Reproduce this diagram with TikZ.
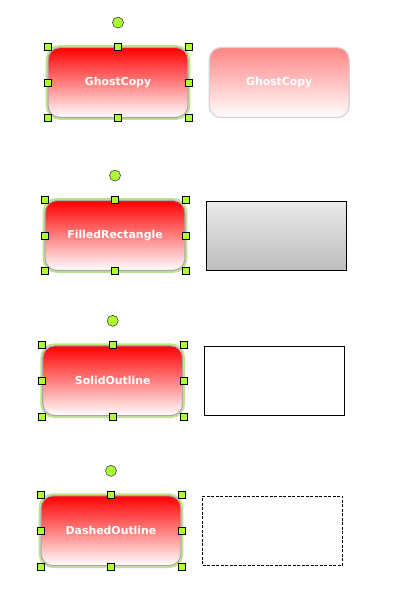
\documentclass[tikz,border=0pt]{standalone}
\usepackage{fontspec}
\setsansfont{DejaVu Sans}
\usetikzlibrary{positioning}

\definecolor{handlegreen}{HTML}{ADFF2F}
\definecolor{selgreen}{HTML}{BFE388}
\definecolor{edgegray}{HTML}{A8A8A8}

\tikzset{
  shapebox/.style={rounded corners=12pt, minimum width=140pt, minimum height=70pt,
    inner sep=0pt, draw=edgegray, line width=1.2pt, top color=red, bottom color=white,
    text=white, font=\sffamily\bfseries\fontsize{10.9}{12}\selectfont},
  ghostbox/.style={shapebox, draw=black!17, top color=red!48, bottom color=white},
  selframe/.style={draw=selgreen, line width=1.6pt, rounded corners=13pt,
    minimum width=143pt, minimum height=73pt, inner sep=0pt},
  handle/.style={draw=black, fill=handlegreen, minimum size=7pt, inner sep=0pt, line width=0.6pt},
  rotor/.style={circle, draw=black!75, fill=handlegreen, minimum size=11pt, inner sep=0pt, line width=0.6pt},
  plainrect/.style={draw=black, minimum width=140pt, minimum height=69pt, inner sep=0pt, line width=0.8pt},
}

\begin{document}
\begin{tikzpicture}[x=1pt,y=-1pt]
  \useasboundingbox (0,0) rectangle (417,613);
  % selected shapes with their handles
  \foreach \n/\cx/\cy/\txt in {1/118/82.5/GhostCopy, 2/115/235.5/FilledRectangle,
                              3/112.7/380.7/SolidOutline, 4/111/530.7/DashedOutline}{
    \node[selframe] (s\n) at (\cx,\cy) {};
    \node[shapebox] (m\n) at (s\n) {\txt};
    \foreach \a/\k in {north west/nw, north/n, north east/ne, west/w,
                       east/e, south west/sw, south/s, south east/se}
      \node[handle] (h\n\k) at (m\n.\a) {};
    \node[rotor, above=18.5pt of m\n.north] (r\n) {};
  }
  % what is drawn while dragging
  \node[ghostbox, right=20pt of m1] (g1) {GhostCopy};
  \node[plainrect, top color=black!8, bottom color=black!26, right=20.7pt of m2] (g2) {};
  \node[plainrect, right=20.6pt of m3] (g3) {};
  \node[plainrect, dash pattern=on 3pt off 1.5pt, right=20.7pt of m4] (g4) {};
\end{tikzpicture}
\end{document}
